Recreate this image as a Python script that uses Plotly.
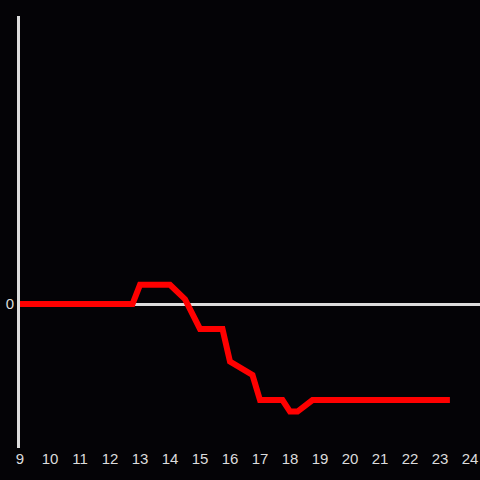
import plotly.graph_objects as go

hours = [9.0, 12.75, 13.0, 14.0, 14.5, 14.75, 15.0, 15.75, 16.0, 16.75, 17.0, 17.75, 18.0, 18.25, 18.75, 23.33]
values = [0, 0, 1.0, 1.0, 0.25, -0.5, -1.3, -1.3, -3.0, -3.7, -5.0, -5.0, -5.6, -5.6, -5.0, -5.0]
x_ticks = list(range(9, 25))

bg = "#040306"
axis_col = "#dcdcdc"

fig = go.Figure()
fig.add_trace(go.Scatter(x=hours, y=values, mode="lines",
                         line=dict(color="#ff0000", width=6), hoverinfo="skip"))
fig.update_layout(
    width=480, height=480,
    paper_bgcolor=bg, plot_bgcolor=bg,
    margin=dict(l=20, r=0, t=16, b=32),
    showlegend=False,
    font=dict(family="Liberation Sans, Arial, sans-serif", size=15, color=axis_col),
)
fig.update_xaxes(range=[9, 9 + 460 / 30], tickvals=x_ticks, ticktext=[str(t) for t in x_ticks],
                 showgrid=False, zeroline=False, showline=False, ticks="")
fig.update_yaxes(range=[-7.5, 15], tickvals=[0], ticktext=["0"], showgrid=False,
                 zeroline=True, zerolinecolor=axis_col, zerolinewidth=3,
                 showline=True, linecolor=axis_col, linewidth=3, ticks="")
fig.write_html("out.html", config={"displayModeBar": False},
               post_script="document.body.style.margin='0';document.body.style.overflow='hidden';")
